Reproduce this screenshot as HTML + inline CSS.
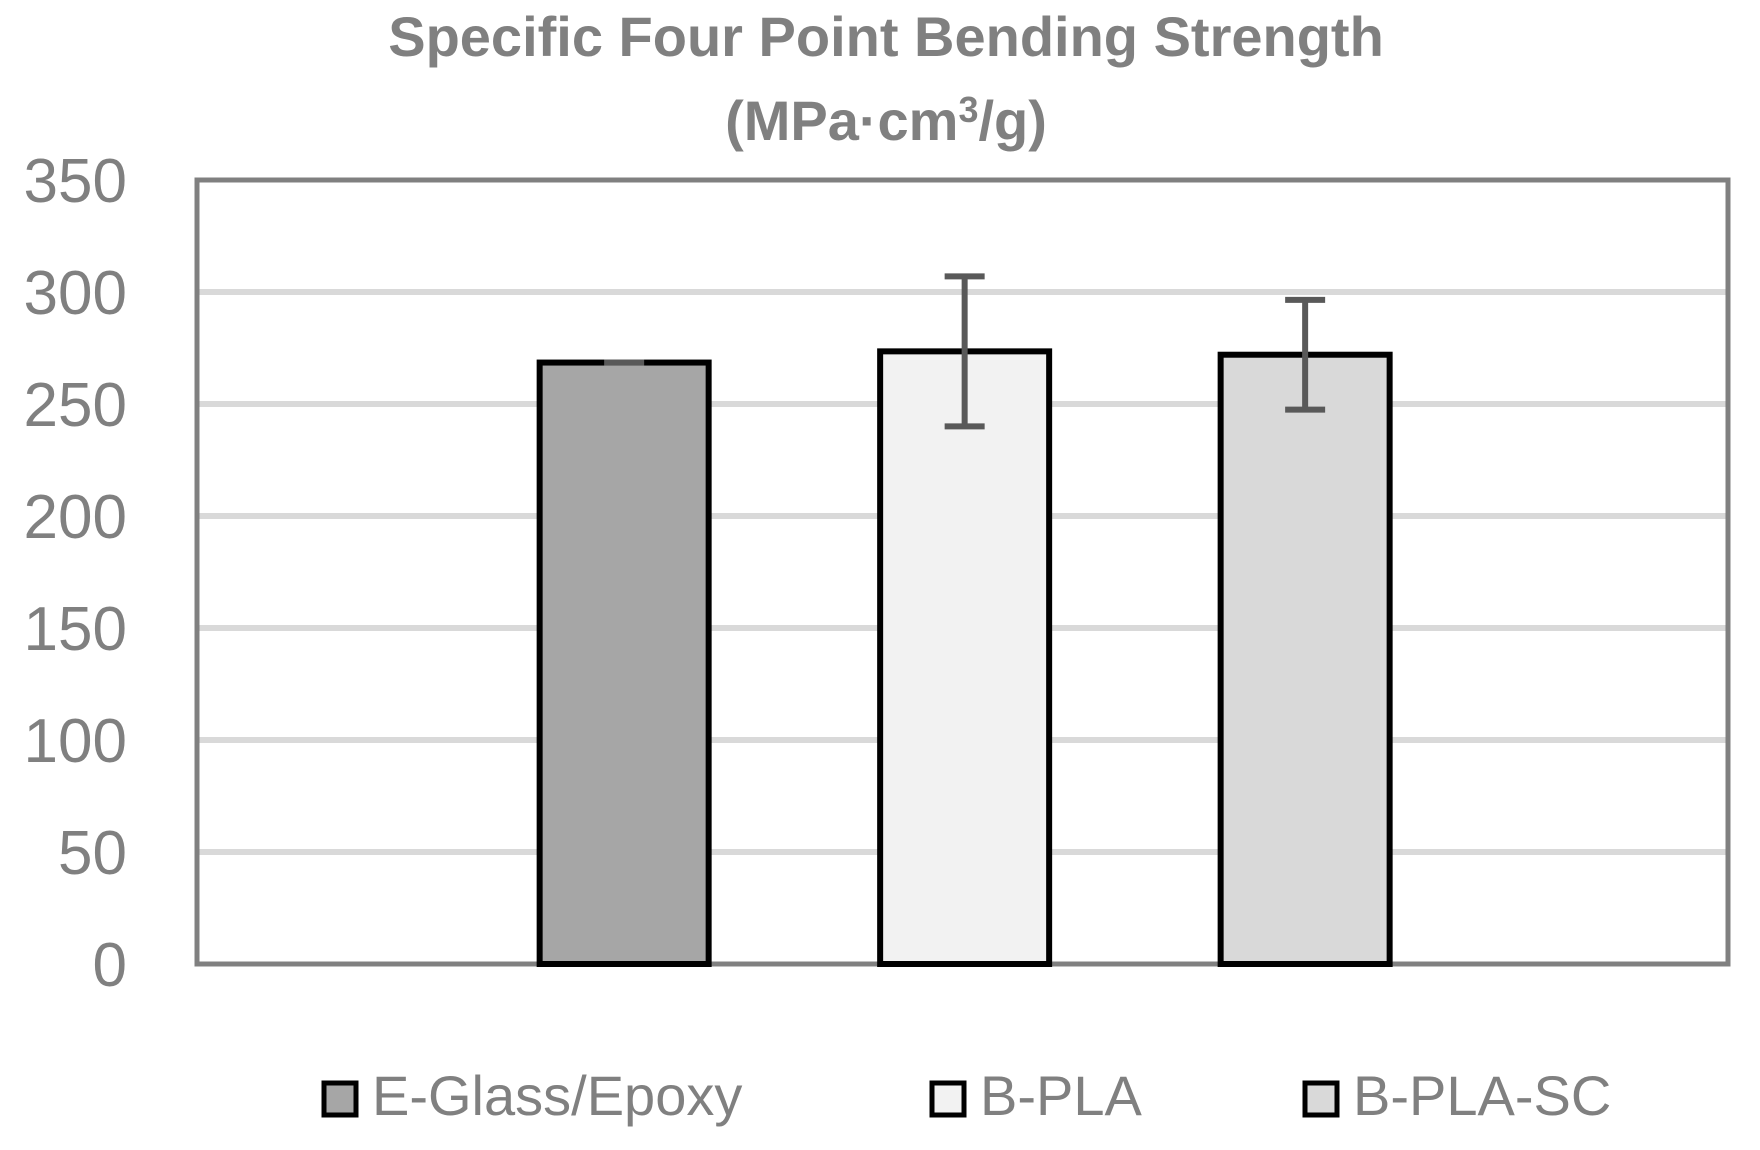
<!DOCTYPE html>
<html><head><meta charset="utf-8"><style>
html,body{margin:0;padding:0;background:#fff;}
svg{display:block;font-family:"Liberation Sans",sans-serif;}
</style></head><body>
<svg id="chart" width="1760" height="1150" viewBox="0 0 1760 1150">
<text x="886" y="56" text-anchor="middle" font-size="56" font-weight="bold" fill="#808080">Specific Four Point Bending Strength</text>
<text x="886" y="140" text-anchor="middle" font-size="56" font-weight="bold" fill="#808080">(MPa·cm<tspan font-size="36" dy="-18">3</tspan><tspan dy="18">/g)</tspan></text>
<g id="grid"></g><g id="bars"></g><g id="yticks"></g><g id="legend"></g>
</svg>
<script>
const series = ["E-Glass/Epoxy","B-PLA","B-PLA-SC"];
const values = [268.5, 273.5, 272];
const errors = [0, 33.5, 24.5];
const fills = ["#a6a6a6","#f2f2f2","#d9d9d9"];
const yTicks = [0,50,100,150,200,250,300,350];
const NS="http://www.w3.org/2000/svg";
const L=197,R=1728,T=180,B=964,yMax=350;
const y=v=>B-(v/yMax)*(B-T);
const xc=i=>L+(R-L)*(0.279+i*0.2224);
const bw=169;
function mk(tag,attrs,parent){const e=document.createElementNS(NS,tag);for(const k in attrs)e.setAttribute(k,attrs[k]);document.getElementById(parent).appendChild(e);return e;}
yTicks.forEach(t=>{
  if(t>0&&t<yMax){const g=mk('line',{x1:L,x2:R,y1:y(t),y2:y(t),stroke:'#d9d9d9','stroke-width':6},'grid');
  
  }
  const tx=mk('text',{x:127,y:y(t)+22,'text-anchor':'end','font-size':62,fill:'#808080'},'yticks');
  tx.textContent=t;
  
  
});
const fr=mk('rect',{x:L,y:T,width:R-L,height:B-T,fill:'none',stroke:'#808080','stroke-width':5},'grid');


series.forEach((s,i)=>{
  const r=mk('rect',{x:xc(i)-bw/2,y:y(values[i]),width:bw,height:B-y(values[i]),fill:fills[i],stroke:'#000','stroke-width':6},'bars');
  
  
  const hi=y(values[i]+errors[i]),lo=y(values[i]-errors[i]),cx=xc(i);
  const eb=mk('path',{d:`M${cx},${hi}V${lo}M${cx-20},${hi}H${cx+20}M${cx-20},${lo}H${cx+20}`,stroke:'#595959','stroke-width':6,fill:'none'},'bars');
  
  
  const lx=[324,932,1305][i];
  const m=mk('rect',{x:lx,y:1083,width:32,height:32,fill:fills[i],stroke:'#000','stroke-width':5},'legend');
  
  
  const t=mk('text',{x:lx+48,y:1115,'font-size':56,fill:'#808080'},'legend');
  t.textContent=s;
  
  
});
</script>
</body></html>
